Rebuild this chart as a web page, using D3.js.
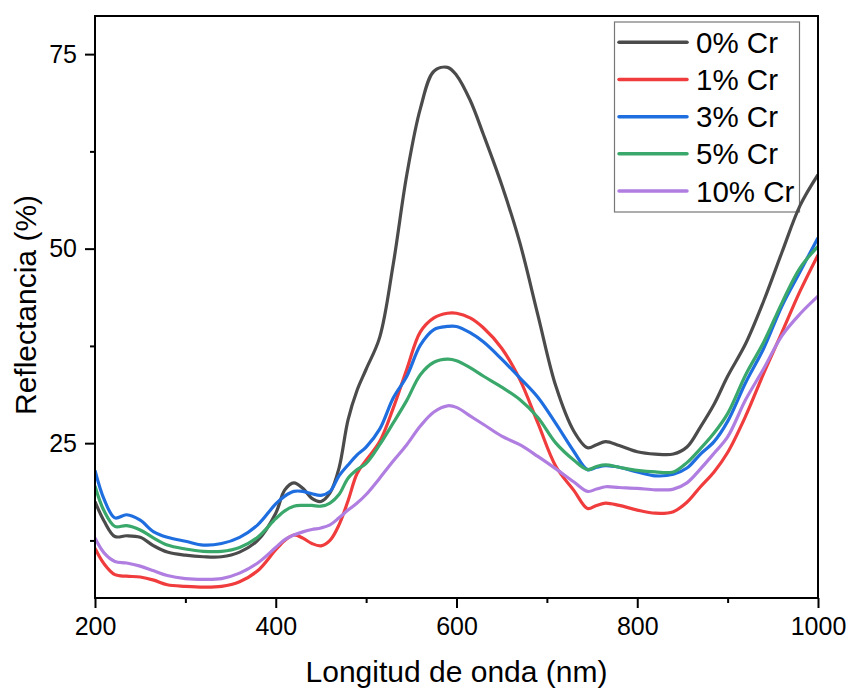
<!DOCTYPE html>
<html>
<head>
<meta charset="utf-8">
<script src="https://cdn.jsdelivr.net/npm/d3@7"></script>
<style>
  html, body { margin: 0; padding: 0; background: #fff; }
  svg { display: block; font-family: Arial, "Liberation Sans", sans-serif; }
</style>
</head>
<body>
<svg id="chart" width="848" height="689"></svg>
<script>
const wavelengths = [200,210,222,235,250,265,280,300,320,340,360,380,400,410,420,430,440,450,460,470,480,490,500,515,530,545,560,575,590,600,615,630,650,670,690,710,730,745,755,765,780,800,820,840,855,870,885,900,920,940,960,980,1000];

const cr0 = [17.5,15.0,13.0,13.1,12.9,11.8,11.0,10.6,10.4,10.4,11.0,12.5,16.0,19.0,19.9,19.2,17.9,17.5,18.6,21.8,28.0,31.8,34.5,38.6,48.0,59.5,68.0,72.8,73.3,72.3,69.1,64.6,58.2,50.8,41.5,32.3,26.5,24.4,24.8,25.2,24.7,23.9,23.6,23.6,24.5,27.1,30.0,33.6,37.8,43.3,49.5,55.5,59.5];
const cr1 = [11.5,9.5,8.1,7.9,7.8,7.4,6.8,6.6,6.5,6.6,7.2,8.6,11.3,12.5,13.2,12.8,12.1,11.8,12.5,14.5,17.6,21.1,22.8,25.2,29.5,34.5,39.3,41.1,41.7,41.7,41.1,39.8,37.2,33.2,27.6,22.0,18.9,16.6,17.0,17.3,17.0,16.4,16.0,16.2,17.4,19.4,21.3,23.8,28.5,34.0,39.2,44.5,49.2];
const cr3 = [21.5,17.8,15.4,15.8,15.1,13.6,12.9,12.4,11.9,12.1,12.9,14.5,17.2,18.2,18.8,18.8,18.5,18.3,18.8,20.8,22.2,23.5,24.5,26.8,30.8,33.6,37.6,39.6,40.0,40.0,39.2,38.0,35.8,33.4,30.9,27.5,23.9,21.6,21.9,22.1,21.9,21.3,20.8,21.0,21.8,23.6,25.2,27.8,32.8,37.2,42.6,47.0,51.4];
const cr5 = [19.5,16.3,14.3,14.4,13.85,12.8,11.9,11.4,11.1,11.1,11.6,12.9,15.3,16.3,16.9,17.0,17.0,16.9,17.3,18.4,20.5,21.6,22.4,24.8,27.6,30.5,33.8,35.4,35.8,35.6,34.7,33.6,32.2,30.6,28.3,25.0,22.8,21.6,22.0,22.2,21.9,21.5,21.3,21.3,22.5,24.3,26.3,28.8,33.8,38.0,43.0,47.5,50.3];
const cr10 = [12.8,10.9,9.8,9.6,9.2,8.6,8.0,7.6,7.5,7.6,8.3,9.6,11.6,12.6,13.2,13.6,13.9,14.1,14.5,15.4,16.4,17.3,18.4,20.5,22.7,24.8,27.2,29.0,29.8,29.6,28.5,27.4,25.9,24.8,23.3,21.7,20.0,18.8,19.1,19.4,19.3,19.2,19.0,19.1,19.9,21.7,23.7,25.8,30.6,34.6,38.8,41.6,43.9];

const seriesNames = ["0% Cr","1% Cr","3% Cr","5% Cr","10% Cr"];
const seriesValues = [cr0, cr1, cr3, cr5, cr10];
const seriesColors = ["#4b4b4b","#f03c3c","#1f6ee0","#3aa86b","#b07ee0"];

const xMajorTicks = [200,400,600,800,1000];
const xMinorTicks = [300,500,700,900];
const yMajorTicks = [25,50,75];
const yMinorTicks = [12.5,37.5,62.5];

const xTitle = "Longitud de onda (nm)";
const yTitle = "Reflectancia (%)";

const svg = d3.select("#chart");
const m = {left: 95, right: 818, top: 16, bottom: 598};

const x = d3.scaleLinear().domain([200, 1000]).range([m.left, m.right]);
const y = d3.scaleLinear().domain([5.1, 79.9]).range([m.bottom, m.top]);

// Legend box (drawn beneath the curves)
const lg = svg.append("g");
lg.append("rect")
  .attr("x", 614.5).attr("y", 22).attr("width", 185).attr("height", 190)
  .attr("fill", "#fff").attr("stroke", "#777").attr("stroke-width", 1.2);

// Lines
const line = d3.line()
  .x((d, i) => x(wavelengths[i]))
  .y(d => y(d))
  .curve(d3.curveCatmullRom.alpha(0.5));

svg.append("clipPath").attr("id", "clip")
  .append("rect").attr("x", m.left).attr("y", m.top)
  .attr("width", m.right - m.left).attr("height", m.bottom - m.top);

const g = svg.append("g").attr("clip-path", "url(#clip)");
seriesValues.forEach((vals, i) => {
  g.append("path")
    .datum(vals)
    .attr("d", line)
    .attr("fill", "none")
    .attr("stroke", seriesColors[i])
    .attr("stroke-width", 3.2)
    .attr("stroke-linejoin", "round");
});

// Axes
const xAxis = svg.append("g").attr("transform", `translate(0,${m.bottom})`)
  .call(d3.axisBottom(x).tickValues(xMajorTicks).tickSize(10).tickPadding(9).tickFormat(d3.format("d")));
const xMinor = svg.append("g").attr("transform", `translate(0,${m.bottom})`)
  .call(d3.axisBottom(x).tickValues(xMinorTicks).tickSize(5).tickFormat(""));
const yAxis = svg.append("g").attr("transform", `translate(${m.left},0)`)
  .call(d3.axisLeft(y).tickValues(yMajorTicks).tickSize(10).tickPadding(8).tickFormat(d3.format("d")));
const yMinor = svg.append("g").attr("transform", `translate(${m.left},0)`)
  .call(d3.axisLeft(y).tickValues(yMinorTicks).tickSize(5).tickFormat(""));

[xAxis, xMinor, yAxis, yMinor].forEach(a => {
  a.select(".domain").remove();
  a.selectAll(".tick line").attr("stroke", "#000").attr("stroke-width", 2);
  a.selectAll(".tick text").attr("font-size", 25).attr("fill", "#000")
    .attr("font-family", "Arial, 'Liberation Sans', sans-serif");
});

// Frame
svg.append("rect")
  .attr("x", m.left).attr("y", m.top)
  .attr("width", m.right - m.left).attr("height", m.bottom - m.top)
  .attr("fill", "none").attr("stroke", "#000").attr("stroke-width", 2);

// Titles
svg.append("text")
  .attr("x", (m.left + m.right) / 2).attr("y", 682)
  .attr("text-anchor", "middle").attr("font-size", 30).attr("fill", "#000")
  .text(xTitle);
svg.append("text")
  .attr("transform", `translate(36,305) rotate(-90)`)
  .attr("text-anchor", "middle").attr("font-size", 30).attr("fill", "#000")
  .text(yTitle);

// Legend entries
const rowY = d3.scaleLinear().domain([0, 4]).range([42.3, 191]);
seriesNames.forEach((name, i) => {
  lg.append("line")
    .attr("x1", 619).attr("x2", 687)
    .attr("y1", rowY(i)).attr("y2", rowY(i))
    .attr("stroke", seriesColors[i]).attr("stroke-width", 3.5)
    .attr("stroke-linecap", "round");
  lg.append("text")
    .attr("x", 696).attr("y", rowY(i))
    .attr("dy", "0.36em")
    .attr("font-size", 29.5).attr("fill", "#000")
    .text(name);
});
</script>
</body>
</html>
